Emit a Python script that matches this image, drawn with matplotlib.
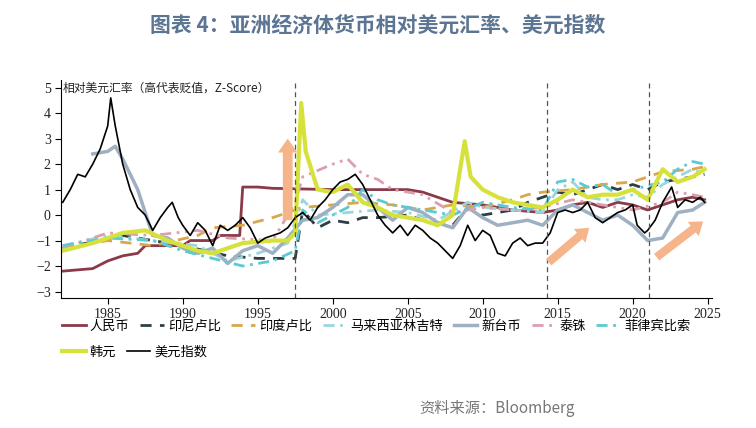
import numpy as np
import matplotlib.pyplot as plt

plt.rcParams["font.family"] = ["Noto Sans CJK SC"]

# (year, z-score) points
usd_x = [1982, 1982.5, 1983, 1983.5, 1984, 1984.5, 1985, 1985.2, 1985.5, 1986, 1986.5, 1987, 1987.5, 1988, 1988.5,
         1989, 1989.3, 1989.7, 1990, 1990.5, 1991, 1991.5, 1992, 1992.5, 1993, 1993.5, 1994, 1994.5, 1995, 1995.5,
         1996, 1996.5, 1997, 1997.5, 1998, 1998.5, 1999, 1999.5, 2000, 2000.5, 2001, 2001.5, 2002, 2002.5, 2003,
         2003.5, 2004, 2004.5, 2005, 2005.5, 2006, 2006.5, 2007, 2007.5, 2008, 2008.5, 2009, 2009.5, 2010, 2010.5,
         2011, 2011.5, 2012, 2012.5, 2013, 2013.5, 2014, 2014.5, 2015, 2015.5, 2016, 2016.5, 2017, 2017.5, 2018,
         2018.5, 2019, 2019.5, 2020, 2020.3, 2020.8, 2021, 2021.5, 2022, 2022.6, 2023, 2023.5, 2024, 2024.5, 2024.8]
usd_y = [0.5, 1.0, 1.6, 1.5, 2.0, 2.6, 3.5, 4.6, 3.5, 2.0, 1.0, 0.3, 0.0, -0.6, -0.1,
         0.3, 0.5, -0.1, -0.4, -0.8, -0.3, -0.6, -1.2, -0.4, -0.6, -0.4, -0.1, -0.5, -1.1, -0.9,
         -0.8, -0.7, -0.5, -0.1, 0.1, -0.2, 0.3, 0.6, 1.0, 1.3, 1.4, 1.6, 1.2, 0.6, 0.0,
         -0.4, -0.7, -0.4, -0.8, -0.4, -0.6, -0.9, -1.1, -1.4, -1.7, -1.2, -0.4, -1.0, -0.6, -0.8,
         -1.5, -1.6, -1.1, -0.9, -1.2, -1.1, -1.1, -0.7, 0.1, 0.2, 0.1, 0.2, 0.5, -0.1, -0.3,
         -0.1, 0.1, 0.2, 0.4, -0.4, -0.7, -0.6, -0.2, 0.5, 1.1, 0.3, 0.6, 0.5, 0.7, 0.5]

twd_x = [1984, 1985, 1985.5, 1986, 1987, 1988, 1989, 1990, 1991, 1992, 1993, 1994, 1995, 1996, 1997, 1998, 1999,
         2000, 2001, 2002, 2003, 2004, 2005, 2006, 2007, 2008, 2009, 2010, 2011, 2012, 2013, 2014, 2015, 2016,
         2017, 2018, 2019, 2020, 2021, 2022, 2023, 2024, 2024.8]
twd_y = [2.4, 2.5, 2.7, 2.2, 1.0, -0.8, -0.9, -1.3, -1.5, -1.3, -1.9, -1.4, -1.2, -1.5, -0.9, -0.2, -0.1,
         0.3, 0.8, 0.8, 0.3, -0.2, 0.3, 0.1, -0.3, -0.5, 0.3, -0.1, -0.4, -0.3, -0.2, -0.4, 0.2, 0.4,
         0.1, -0.2, 0.0, -0.4, -1.0, -0.9, 0.1, 0.2, 0.5]

rmb_x = [1982, 1984, 1985, 1986, 1987, 1987.5, 1990, 1990.5, 1992, 1992.5, 1993.8, 1994, 1995, 1996, 2000, 2005,
         2006, 2008, 2010, 2012, 2014, 2015, 2016, 2017, 2018, 2019, 2020, 2021, 2022, 2023, 2024, 2024.8]
rmb_y = [-2.2, -2.1, -1.8, -1.6, -1.5, -1.2, -1.2, -1.0, -1.0, -0.8, -0.8, 1.1, 1.1, 1.05, 1.0, 1.0,
         0.9, 0.5, 0.4, 0.2, 0.1, 0.2, 0.4, 0.5, 0.3, 0.5, 0.4, 0.2, 0.4, 0.6, 0.7, 0.6]

idr_x = [1982, 1986, 1990, 1993, 1995, 1997.5, 1998, 1999, 2000, 2001, 2002, 2003, 2005, 2006, 2007, 2008, 2009,
         2010, 2012, 2013, 2014, 2015, 2016, 2017, 2018, 2019, 2020, 2021, 2022, 2023, 2024, 2024.8]
idr_y = [-1.3, -0.8, -1.2, -1.6, -1.7, -1.7, 0.2, -0.5, -0.2, -0.3, -0.1, -0.1, 0.0, -0.2, -0.3, -0.4, 0.3,
         0.0, 0.2, 0.5, 0.7, 0.9, 0.8, 1.0, 1.2, 1.0, 1.2, 1.0, 1.3, 1.4, 1.5, 1.6]

inr_x = [1982, 1985, 1988, 1991, 1992, 1994, 1996, 1998, 2000, 2002, 2004, 2006, 2008, 2010, 2012, 2013, 2014,
         2016, 2018, 2020, 2022, 2024, 2024.8]
inr_y = [-1.3, -1.0, -1.2, -0.8, -0.5, -0.4, -0.1, 0.3, 0.4, 0.5, 0.4, 0.2, 0.4, 0.3, 0.6, 0.8, 0.9,
         1.0, 1.2, 1.3, 1.7, 1.8, 1.9]

myr_x = [1982, 1985, 1988, 1991, 1993, 1995, 1997, 1998, 1999, 2001, 2003, 2005, 2007, 2009, 2010, 2012, 2014,
         2015, 2016, 2017, 2018, 2019, 2020, 2021, 2022, 2023, 2024, 2024.8]
myr_y = [-1.2, -0.8, -1.0, -1.2, -1.8, -1.5, -1.1, 0.6, 0.0, 0.1, 0.2, 0.1, -0.2, 0.5, 0.3, 0.2, 0.1,
         1.0, 1.3, 0.7, 0.6, 0.6, 0.8, 0.7, 1.2, 1.5, 1.8, 1.6]

thb_x = [1982, 1985, 1988, 1991, 1993, 1996, 1997.5, 1998, 2000, 2001, 2002, 2003, 2004, 2006, 2008, 2010, 2012,
         2014, 2016, 2018, 2020, 2022, 2023, 2024, 2024.8]
thb_y = [-1.3, -0.7, -0.8, -0.6, -0.9, -1.0, 0.5, 1.5, 2.0, 2.2, 1.6, 1.4, 1.0, 0.8, 0.1, 0.3, 0.2,
         0.3, 0.6, 0.4, 0.2, 0.5, 0.9, 0.8, 0.7]

php_x = [1982, 1985, 1988, 1990, 1992, 1994, 1996, 1997.5, 1998, 1999, 2001, 2002, 2003, 2004, 2006, 2008, 2010,
         2012, 2014, 2015, 2016, 2017, 2018, 2019, 2020, 2022, 2023, 2024, 2024.8]
php_y = [-1.2, -0.9, -1.0, -1.4, -1.7, -2.0, -1.8, -1.4, 0.2, -0.3, 0.3, 1.0, 0.6, 0.4, 0.2, 0.0, 0.5,
         0.3, 0.2, 1.3, 1.4, 1.1, 1.2, 0.8, 1.0, 1.3, 1.8, 2.1, 2.0]

krw_x = [1982, 1984, 1986, 1987.5, 1989, 1991, 1992, 1994, 1996, 1997, 1997.5, 1997.9, 1998.2, 1999, 2000, 2001,
         2002, 2003, 2004, 2005, 2006, 2007, 2008, 2008.8, 2009.2, 2010, 2011, 2012, 2013, 2014, 2015, 2016,
         2017, 2018, 2019, 2020, 2021, 2022, 2023, 2024, 2024.8]
krw_y = [-1.4, -1.1, -0.7, -0.6, -1.0, -1.4, -1.5, -1.1, -1.0, -1.0, -0.7, 4.4, 2.5, 1.0, 0.9, 1.2,
         0.5, 0.3, 0.0, -0.1, -0.2, -0.4, 0.0, 2.9, 1.5, 1.0, 0.7, 0.5, 0.4, 0.3, 0.6, 1.0,
         0.7, 0.8, 0.8, 1.0, 0.6, 1.8, 1.3, 1.5, 1.8]

event_years = [1997.5, 2014.3, 2021.1]

fig = plt.figure(figsize=(7.56, 4.28), dpi=100)
ax = fig.add_axes([0.081, 0.304, 0.861, 0.509])

series = [
    ("人民币", rmb_x, rmb_y, dict(color="#8b3a4a", lw=2, ls="-")),
    ("印尼卢比", idr_x, idr_y, dict(color="#2f3e46", lw=2, ls=(0, (4, 3)))),
    ("印度卢比", inr_x, inr_y, dict(color="#d8a84a", lw=2, ls=(0, (4, 3)))),
    ("马来西亚林吉特", myr_x, myr_y, dict(color="#9ad6dc", lw=2, ls=(0, (4, 2, 1, 2)))),
    ("新台币", twd_x, twd_y, dict(color="#9fb0c2", lw=2.5, ls="-")),
    ("泰铢", thb_x, thb_y, dict(color="#dba0ad", lw=2, ls=(0, (4, 2, 1, 2, 1, 2)))),
    ("菲律宾比索", php_x, php_y, dict(color="#5ccad2", lw=2, ls=(0, (4, 2, 1, 2)))),
    ("韩元", krw_x, krw_y, dict(color="#d6e23a", lw=3, ls="-")),
    ("美元指数", usd_x, usd_y, dict(color="black", lw=1.2, ls="-")),
]
handles = []
for name, xs, ys, st in series:
    h, = ax.plot(xs, ys, label=name, **st)
    handles.append(h)

for yr in event_years:
    ax.axvline(yr, color="#555555", lw=0.9, ls=(0, (4, 3)))

arrow_c = "#f5b48a"
ax.annotate("", xy=(1997.0, 3.0), xytext=(1997.0, -0.2),
            arrowprops=dict(color=arrow_c, width=7, headwidth=14, headlength=10, lw=0))
ax.annotate("", xy=(2017.1, -0.5), xytext=(2014.4, -1.85),
            arrowprops=dict(color=arrow_c, width=6, headwidth=13, headlength=9, lw=0))
ax.annotate("", xy=(2024.7, -0.25), xytext=(2021.6, -1.65),
            arrowprops=dict(color=arrow_c, width=6, headwidth=13, headlength=9, lw=0))

ax.set_xlim(1981.9, 2025.3)
ax.set_ylim(-3.25, 5.3)
ax.set_xticks(range(1985, 2030, 5))
ax.set_yticks(range(-3, 6))
for s in ["top", "right"]:
    ax.spines[s].set_visible(False)
for lab in ax.get_xticklabels() + ax.get_yticklabels():
    lab.set_fontfamily("Liberation Serif")
    lab.set_fontsize(10)
ax.tick_params(direction="out", length=4, labelcolor="#222222")
ax.text(1982.0, 5.0, "相对美元汇率（高代表贬值，Z-Score）", fontsize=8.5, va="center", color="#222222")

fig.text(0.5, 0.94, "图表 4：亚洲经济体货币相对美元汇率、美元指数", ha="center", va="center",
         fontsize=15, fontweight="bold", color="#5b7592")
fig.legend(handles=handles[:7], loc="upper left", bbox_to_anchor=(0.075, 0.265), ncol=7, frameon=False,
           fontsize=9.5, handlelength=1.8, handletextpad=0.3, columnspacing=0.8, borderaxespad=0)
fig.legend(handles=handles[7:], loc="upper left", bbox_to_anchor=(0.075, 0.205), ncol=2, frameon=False,
           fontsize=9.5, handlelength=1.8, handletextpad=0.3, columnspacing=0.8, borderaxespad=0)
fig.text(0.555, 0.045, "资料来源：Bloomberg", fontsize=11, color="#777777", va="center")

fig.savefig("out.png", dpi=100)
